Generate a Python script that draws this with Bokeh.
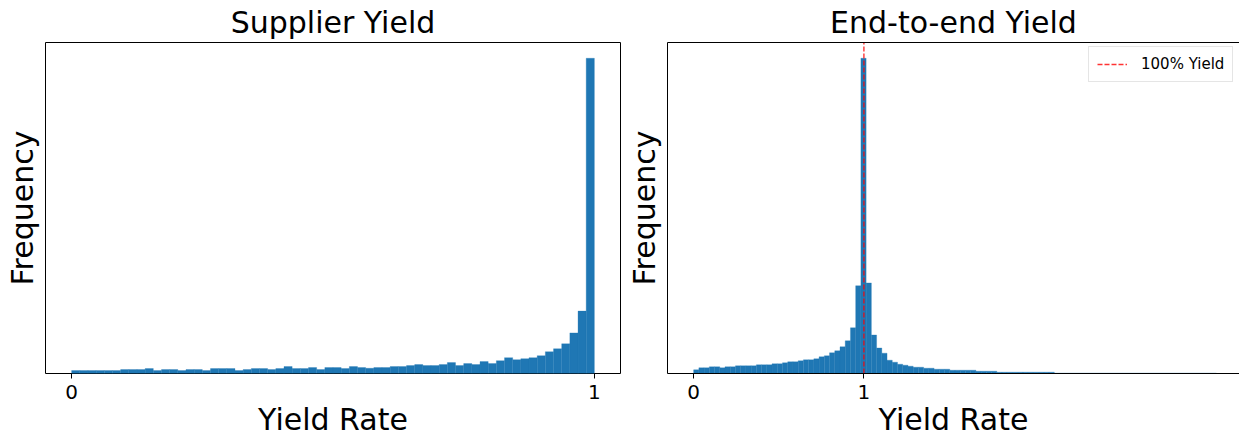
import numpy as np
from bokeh.plotting import figure
from bokeh.models import (FixedTicker, LinearAxis, Range1d, Legend, LegendItem,
                          ColumnDataSource, Label)
from bokeh.layouts import row
from bokeh.embed import file_html
from bokeh.resources import INLINE

# Supplier yield histogram: 64 equal bins over [0, 1]
SUPPLIER_RANGE = (0.0, 1.0)
SUPPLIER_COUNTS = [
    60, 60, 60, 60, 60, 60, 80, 80, 80, 100,
    60, 80, 80, 60, 80, 80, 60, 100, 100, 100,
    60, 80, 100, 100, 80, 100, 140, 100, 100, 120,
    80, 120, 120, 100, 140, 120, 106, 120, 120, 140,
    140, 160, 180, 160, 160, 180, 220, 160, 200, 180,
    240, 200, 260, 320, 280, 300, 320, 360, 440, 500,
    600, 820, 1260, 6366,
]

# End-to-end yield histogram: 100 equal bins over [0, 3.07]
E2E_RANGE = (0.0, 3.07)
E2E_COUNTS = [
    74, 114, 114, 134, 134, 114, 134, 134, 154, 154,
    154, 154, 174, 174, 174, 194, 194, 214, 234, 234,
    254, 274, 274, 294, 334, 354, 414, 454, 534, 654,
    914, 1754, 6300, 1810, 770, 510, 406, 266, 226, 186,
    166, 146, 126, 126, 106, 106, 86, 86, 86, 66,
    66, 66, 66, 66, 46, 46, 46, 46, 26, 26,
    26, 26, 26, 26, 26, 26, 26, 26, 26, 8,
    8, 8, 8, 8, 8, 8, 8, 8, 8, 8,
    8, 8, 8, 8, 8, 8, 8, 8, 8, 8,
    8, 8, 8, 8, 8, 8, 8, 8, 8, 8,
]

TARGET_YIELD = 1.0
X_TICKS = [0, 1]
X_TICK_LABELS = {0: "0", 1: "1"}

FONT = "DejaVu Sans"
BAR_COLOR = "#1f77b4"
HEIGHT = 436
FRAME_W = 575


def make_hist(title, counts, data_range, width, border_left, border_right,
              border_bottom, visible_w, ylabel_standoff, outline=True):
    lo, hi = data_range
    edges = np.linspace(lo, hi, len(counts) + 1)
    src = ColumnDataSource(dict(left=edges[:-1], right=edges[1:],
                                top=counts, bottom=[0] * len(counts)))
    span = (hi - lo) * 1.1
    x0 = lo - 0.05 * (hi - lo)
    x1 = x0 + span * visible_w / FRAME_W
    y1 = max(counts) * 1.05

    p = figure(width=width, height=HEIGHT, output_backend="svg",
               toolbar_location=None, x_range=Range1d(x0, x1),
               y_range=Range1d(0, y1), min_border_left=border_left,
               min_border_right=border_right, min_border_top=42,
               min_border_bottom=border_bottom, title=title)
    p.quad(left="left", right="right", top="top", bottom="bottom", source=src,
           fill_color=BAR_COLOR, line_color=BAR_COLOR, line_width=0.3)

    p.grid.visible = False
    p.background_fill_color = "white"
    p.border_fill_color = "white"

    p.title.text_font = FONT
    p.title.text_font_size = "30px"
    p.title.text_font_style = "normal"
    p.title.text_color = "black"
    p.title.align = "center"
    p.title.standoff = 5

    xa = p.xaxis[0]
    xa.ticker = FixedTicker(ticks=X_TICKS)
    xa.major_label_overrides = X_TICK_LABELS
    xa.major_label_text_font = FONT
    xa.major_label_text_font_size = "20px"
    xa.major_label_text_color = "black"
    xa.major_label_standoff = 6
    xa.major_tick_out = 5
    xa.major_tick_in = 0
    xa.major_tick_line_color = "black"
    xa.minor_tick_line_color = None

    # x-axis title, set by its baseline in the panel under the axis
    p.add_layout(Label(x=visible_w / 2, y=17, x_units="screen",
                       y_units="screen", text="Yield Rate", text_font=FONT,
                       text_font_size="30px", text_color="black",
                       text_align="center", text_baseline="alphabetic"),
                 "below")

    ya = p.yaxis[0]
    ya.ticker = FixedTicker(ticks=[])
    ya.major_tick_out = 0
    ya.major_tick_in = 0
    ya.minor_tick_line_color = None
    ya.axis_label = "Frequency"
    ya.axis_label_text_font = FONT
    ya.axis_label_text_font_size = "30px"
    ya.axis_label_text_font_style = "normal"
    ya.axis_label_text_color = "black"
    ya.axis_label_standoff = ylabel_standoff

    if outline:
        p.outline_line_color = "black"
        p.outline_line_width = 1
        xa.axis_line_color = None
        ya.axis_line_color = None
    else:
        p.outline_line_color = None
        xa.axis_line_color = "black"
        ya.axis_line_color = "black"
        top = LinearAxis(ticker=FixedTicker(ticks=[]), major_tick_out=0,
                         major_tick_in=0, minor_tick_line_color=None,
                         major_label_text_font_size="0px",
                         axis_line_color="black")
        p.add_layout(top, "above")
    return p, y1


left, _ = make_hist("Supplier Yield", SUPPLIER_COUNTS, SUPPLIER_RANGE,
                    width=623, border_left=45, border_right=3,
                    border_bottom=60, visible_w=FRAME_W, ylabel_standoff=6)

right, ytop = make_hist("End-to-end Yield", E2E_COUNTS, E2E_RANGE,
                        width=616, border_left=44, border_right=0,
                        border_bottom=63, visible_w=572, ylabel_standoff=6,
                        outline=False)

target = right.line(x=[TARGET_YIELD, TARGET_YIELD], y=[0, ytop],
                    line_color="red", line_alpha=0.8, line_width=1.4,
                    line_dash="5 2")
legend = Legend(items=[LegendItem(label="100% Yield", renderers=[target])],
                location=(421, 291), margin=0, padding=8, spacing=0,
                glyph_width=30, glyph_height=16, label_height=16,
                label_standoff=14, label_text_font=FONT,
                label_text_font_size="15px", label_text_color="black",
                border_line_color="#cccccc", border_line_width=1,
                background_fill_alpha=0.8)
right.add_layout(legend)

layout = row(left, right)
open("out.html", "w").write(file_html(layout, INLINE))
